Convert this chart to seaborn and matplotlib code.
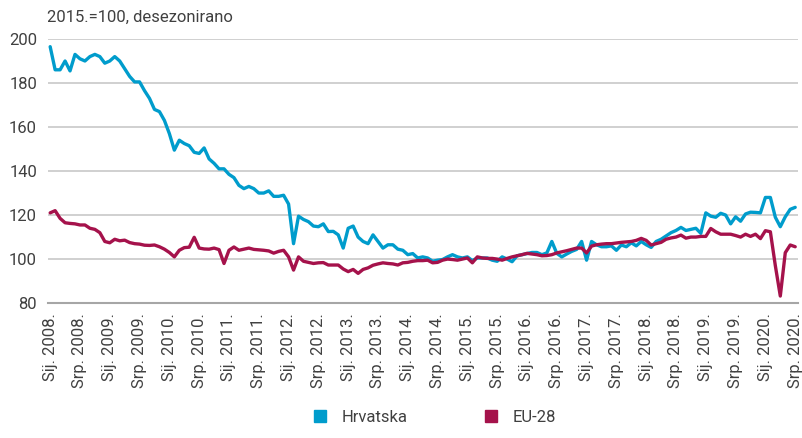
import pandas as pd
import seaborn as sns
import matplotlib.pyplot as plt
from matplotlib.lines import Line2D

# Monthly index values, Jan 2008 - Jul 2020 (2015=100, seasonally adjusted)
hrvatska = [
    196.5, 186, 186, 190, 185.5, 193, 191, 190, 192, 193, 192, 189,
    190, 192, 190, 186.5, 183, 180.5, 180.5, 176.5, 173, 168, 167, 163,
    157, 149.5, 154, 152.5, 151.5, 148.5, 148, 150.5, 145.5, 143.5, 141, 141,
    138.5, 137, 133.5, 132, 133, 132, 130, 130, 131, 128.5, 128.5, 129,
    125, 107, 119.5, 118, 117, 115, 114.7, 116, 112.5, 112.6, 111, 105,
    114, 115, 110, 108, 107, 111, 108, 105, 106.5, 106.5, 104.5, 104,
    102, 102.5, 100.5, 101, 100.5, 99, 99.5, 99.8, 101, 102, 101, 100.5,
    101, 99.3, 100.5, 100.5, 100.5, 99.5, 99, 101, 100, 98.8, 101.5, 102,
    102.5, 103, 103, 102, 102.8, 108, 102.6, 101, 102.3, 103.5, 104.4, 108,
    99.5, 108, 106.5, 105.6, 105.6, 106, 104, 106.4, 105.6, 107.4, 106, 108,
    106.5, 105.3, 108, 109, 110.5, 112, 113, 114.4, 113, 113.5, 114, 111.7,
    121, 119.5, 119, 120.8, 120, 116, 119.2, 117.2, 120.5, 121.3, 121.2, 121,
    128, 128, 119, 114.7, 119.2, 122.6, 123.5,
]
eu28 = [
    121, 122, 118.5, 116.5, 116.2, 116, 115.5, 115.5, 114, 113.5, 112, 108,
    107.4, 109, 108.3, 108.6, 107.5, 107, 106.8, 106.3, 106.2, 106.4, 105.6, 104.5,
    103, 101, 104, 105.2, 105.4, 109.9, 105, 104.6, 104.5, 105, 104.3, 98,
    104, 105.5, 104, 104.5, 105, 104.4, 104.2, 104, 103.7, 102.7, 103.5, 104,
    101, 95, 101, 99, 98.5, 98, 98.3, 98.4, 97.3, 97.3, 97.3, 95.5,
    94.3, 95.3, 93.5, 95.3, 96, 97.2, 97.8, 98.3, 98, 97.8, 97.3, 98.3,
    98.5, 99, 99.3, 99.3, 99.5, 98.3, 98.5, 99.5, 100, 99.8, 99.5, 100,
    100.5, 98.3, 101, 100.5, 100.3, 100.3, 100, 99.5, 100.3, 101, 101.5, 102,
    102.6, 102.3, 102, 101.5, 101.6, 102, 102.8, 103.3, 103.8, 104.4, 105, 105,
    102.8, 105.9, 106.5, 106.8, 107, 107, 107.3, 107.6, 107.8, 108, 108.5, 109.4,
    108.5, 106.4, 107, 107.6, 109, 109.6, 110, 110.9, 109.5, 110, 110, 110.3,
    110.3, 113.9, 112.4, 111.3, 111.3, 111.3, 110.7, 110, 111.3, 110.3, 111.3, 109.3,
    112.9, 112.4, 97, 83.2, 102.9, 106.4, 105.6,
]
series_names = ['Hrvatska', 'EU-28']
colors = ['#009CCC', '#A5124B']
tick_months = ['Sij.', 'Srp.']
tick_years = list(range(2008, 2021))

tick_labels = [f'{m} {y}.' for y in tick_years for m in tick_months]
tick_pos = list(range(0, 6 * len(tick_labels), 6))

df = pd.DataFrame({
    'month': list(range(len(hrvatska))) * 2,
    'value': hrvatska + eu28,
    'series': [series_names[0]] * len(hrvatska) + [series_names[1]] * len(eu28),
})

sns.set_style('white')
plt.rcParams['font.family'] = ['Roboto', 'DejaVu Sans']

fig = plt.figure(figsize=(8.03, 4.38), dpi=100)
ax = fig.add_axes([0.06, 0.308, 0.934, 0.603])

sns.lineplot(data=df, x='month', y='value', hue='series', palette=colors,
             linewidth=2.4, legend=False, ax=ax)

ax.set_xlim(-0.4, 150.6)
ax.set_ylim(80, 200)
ax.set_yticks(range(80, 201, 20))
ax.set_xticks(tick_pos)
ax.set_xticklabels(tick_labels, rotation=90)
ax.grid(axis='y', color='#C8C8C8', linewidth=1.2)
ax.set_axisbelow(True)
for s in ['left', 'top', 'right']:
    ax.spines[s].set_visible(False)
ax.spines['bottom'].set_color('#A6A6A6')
ax.spines['bottom'].set_linewidth(1.5)
ax.tick_params(axis='x', length=3, width=1.2, color='#A6A6A6', labelsize=12,
               labelcolor='#404040', pad=4)
ax.tick_params(axis='y', length=0, labelsize=12, labelcolor='#404040', pad=8)
ax.set_xlabel('')
ax.set_ylabel('')

fig.text(0.059, 0.961, '2015.=100, desezonirano', fontsize=12, color='#404040',
         va='center', ha='left')

handles = [Line2D([], [], marker='s', linestyle='', color=c, markersize=8) for c in colors]
fig.legend(handles, series_names, loc='lower center', bbox_to_anchor=(0.535, -0.005),
           ncol=2, frameon=False, fontsize=12, columnspacing=4, handletextpad=0.3,
           labelcolor='#404040')

fig.savefig('out.png', dpi=100)
